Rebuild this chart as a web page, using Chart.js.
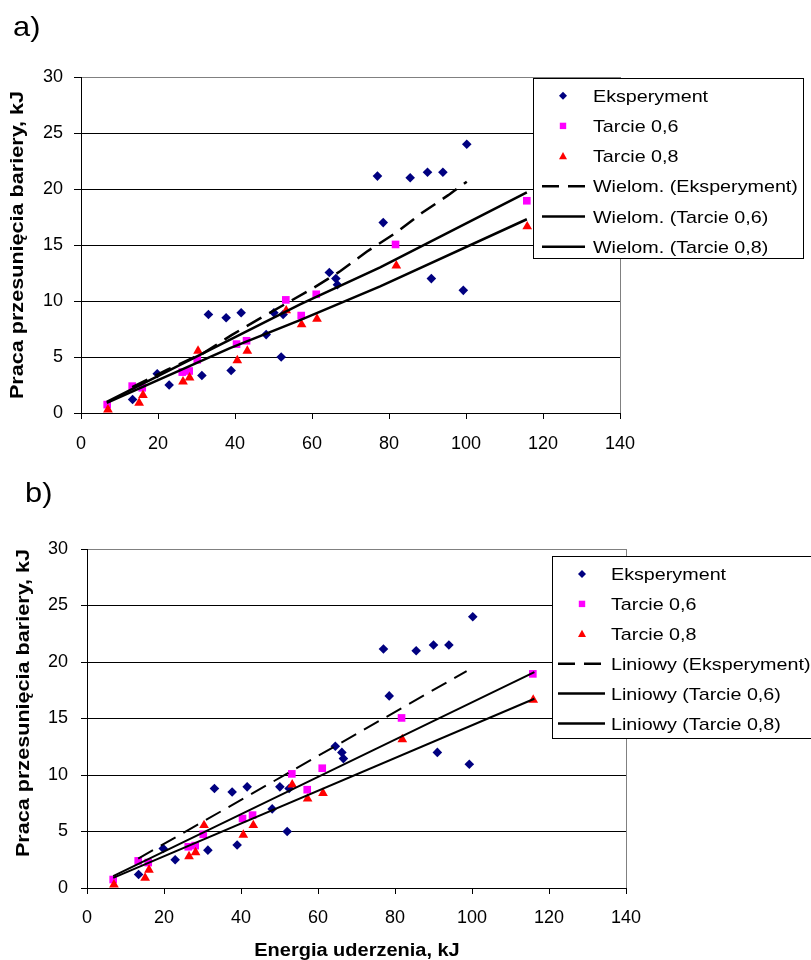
<!DOCTYPE html>
<html>
<head>
<meta charset="utf-8">
<script src="https://cdn.jsdelivr.net/npm/chart.js@4/dist/chart.umd.min.js"></script>
<style>
  body { margin: 0; background: #fff; }
  #wrap { position: relative; width: 811px; height: 960px; }
  canvas { position: absolute; left: 0; }
  #chartA { top: 0; }
  #chartB { top: 470px; }
</style>
</head>
<body>
<div id="wrap">
  <canvas id="chartA" width="811" height="470"></canvas>
  <canvas id="chartB" width="811" height="490"></canvas>
</div>
<script>
// measured points (energy kJ -> work kJ)
const expX = [13.4, 19.8, 22.9, 31.4, 33.1, 37.7, 39.0, 41.6, 48.1, 50.1, 52.0, 52.5, 64.5, 66.2, 66.6, 77.0, 78.5, 85.5, 90.0, 91.0, 94.0, 99.3, 100.2];
const expY = [1.2, 3.5, 2.5, 3.35, 8.8, 8.5, 3.8, 8.95, 7.0, 8.95, 5.0, 8.8, 12.55, 12.0, 11.45, 21.15, 17.0, 21.0, 21.5, 12.0, 21.5, 10.95, 24.0];

const t06X = [6.8, 13.3, 15.9, 26.3, 28.1, 30.2, 40.4, 43.0, 53.2, 57.2, 61.1, 81.7, 115.8];
const t06Y = [0.75, 2.4, 2.25, 3.65, 3.75, 4.75, 6.15, 6.45, 10.1, 8.7, 10.6, 15.05, 18.95];

const t08X = [7.0, 15.1, 16.1, 26.5, 28.2, 30.4, 40.6, 43.2, 53.3, 57.3, 61.3, 81.9, 115.9];
const t08Y = [0.3, 0.9, 1.6, 2.8, 3.15, 5.55, 4.7, 5.55, 9.15, 7.9, 8.4, 13.15, 16.65];

// polynomial trend lines (chart a)
const polyExpX = [13.3, 22.3, 31.8, 39.1, 46.5, 60.3, 67.3, 74.2, 81.6, 88.5, 95.4, 100.2];
const polyExpY = [2.3, 3.85, 5.35, 6.95, 8.45, 11.15, 12.65, 14.4, 16.05, 17.85, 19.45, 20.65];
const polyT06X = [6.7, 31.8, 56.9, 77.7, 115.8];
const polyT06Y = [1.0, 5.35, 9.7, 13.0, 19.7];
const polyT08X = [6.7, 38.7, 56.9, 77.7, 115.8];
const polyT08Y = [0.9, 5.8, 8.3, 11.3, 17.3];

// linear trend lines (chart b)
const linExpX = [13.3, 98.6];
const linExpY = [2.6, 19.2];
const linT06X = [6.8, 116.2];
const linT06Y = [1.05, 19.1];
const linT08X = [6.8, 116.2];
const linT08Y = [0.9, 16.75];

const xTicks = [0, 20, 40, 60, 80, 100, 120, 140];
const yTicks = [0, 5, 10, 15, 20, 25, 30];

const seriesNames = ['Eksperyment', 'Tarcie 0,6', 'Tarcie 0,8'];
const FONT = "'Liberation Sans', Arial, sans-serif";

const pts = (xs, ys) => xs.map((x, i) => ({ x: x, y: ys[i] }));

function markerPath(ctx, style, x, y, r) {
  ctx.beginPath();
  if (style === 'rectRot') {
    ctx.moveTo(x, y - r); ctx.lineTo(x + r, y); ctx.lineTo(x, y + r); ctx.lineTo(x - r, y);
  } else if (style === 'rect') {
    ctx.rect(x - r, y - r, 2 * r, 2 * r);
  } else {
    ctx.moveTo(x, y - r); ctx.lineTo(x + r, y + r * 0.8); ctx.lineTo(x - r, y + r * 0.8);
  }
  ctx.closePath();
}

function wideText(ctx, text, x, y, font, sx, align, rot) {
  ctx.save();
  ctx.translate(x, y);
  if (rot) ctx.rotate(rot);
  ctx.scale(sx, 1);
  ctx.font = font;
  ctx.fillStyle = '#000';
  ctx.textAlign = align;
  ctx.textBaseline = 'alphabetic';
  ctx.fillText(text, 0, 0);
  ctx.restore();
}

// frame, panel letter, axis titles and legend box
const panelPlugin = {
  id: 'panel',
  afterDraw(chart, args, o) {
    const ctx = chart.ctx, a = chart.chartArea;
    ctx.save();
    ctx.strokeStyle = '#808080';
    ctx.lineWidth = 1;
    const rx = Math.round(a.right) + 0.5;
    ctx.beginPath(); ctx.moveTo(rx, a.top); ctx.lineTo(rx, a.bottom); ctx.stroke();
    ctx.restore();

    wideText(ctx, o.letter, o.letterX, o.letterY, '28px ' + FONT, 1.1, 'left');
    wideText(ctx, 'Praca przesunięcia bariery, kJ', o.yTitleX, o.yTitleY, 'bold 18px ' + FONT, 1.2, 'center', -Math.PI / 2);
    if (o.xTitle) wideText(ctx, 'Energia uderzenia, kJ', o.xTitleX, o.xTitleY, 'bold 18px ' + FONT, 1.11, 'center');

    const L = o.legend;
    ctx.save();
    ctx.fillStyle = '#fff';
    ctx.fillRect(L.left, L.top, L.right - L.left, L.bottom - L.top);
    ctx.strokeStyle = '#000';
    ctx.lineWidth = 1;
    ctx.strokeRect(L.left + 0.5, L.top + 0.5, L.right - L.left, L.bottom - L.top);
    chart.data.datasets.forEach((ds, i) => {
      const cy = L.top + L.first + i * L.gap;
      if (ds.showLine) {
        ctx.strokeStyle = '#000';
        ctx.lineWidth = 2.5;
        ctx.setLineDash(ds.borderDash || []);
        ctx.beginPath(); ctx.moveTo(L.lineX0, cy); ctx.lineTo(L.lineX1, cy); ctx.stroke();
        ctx.setLineDash([]);
      } else {
        ctx.fillStyle = ds.backgroundColor;
        markerPath(ctx, ds.pointStyle, L.markX, cy, ds.pointStyle === 'rect' ? 3.2 : 4);
        ctx.fill();
      }
      wideText(ctx, ds.label, L.textX, cy + 6, '17px ' + FONT, 1.16, 'left');
    });
    ctx.restore();
  }
};

function buildDatasets(trendName, trends, lineWidth) {
  const colors = ['#000080', '#FF00FF', '#FF0000'];
  const styles = ['rectRot', 'rect', 'triangle'];
  const radii = [4.8, 5.4, 5.6];
  const src = [pts(expX, expY), pts(t06X, t06Y), pts(t08X, t08Y)];
  const sets = src.map((d, i) => ({
    label: seriesNames[i],
    data: d,
    showLine: false,
    pointStyle: styles[i],
    pointRadius: radii[i],
    pointBorderWidth: 0,
    backgroundColor: colors[i],
    borderColor: colors[i],
    clip: false,
    order: 6 - i
  }));
  trends.forEach((t, i) => {
    sets.push({
      label: trendName + ' (' + seriesNames[i] + ')',
      data: pts(t[0], t[1]),
      showLine: true,
      borderColor: '#000',
      borderWidth: lineWidth,
      borderDash: i === 0 ? [17, 9] : [],
      pointRadius: 0,
      tension: 0,
      backgroundColor: '#000',
      order: 3 - i
    });
  });
  return sets;
}

function makeChart(id, opts) {
  return new Chart(document.getElementById(id), {
    type: 'scatter',
    data: { datasets: buildDatasets(opts.trendName, opts.trends, opts.lineWidth) },
    plugins: [panelPlugin],
    options: {
      responsive: false,
      animation: false,
      events: [],
      layout: { padding: { top: opts.area.top, right: opts.width - opts.area.right, left: 0, bottom: 0 } },
      plugins: {
        legend: { display: false },
        tooltip: { enabled: false },
        panel: opts.panel
      },
      scales: {
        x: {
          type: 'linear',
          min: 0, max: 140,
          afterBuildTicks: s => { s.ticks = xTicks.map(v => ({ value: v })); },
          afterFit: s => { s.height = opts.height - opts.area.bottom; },
          ticks: { color: '#000', font: { family: FONT, size: 18 }, padding: opts.xPad, maxRotation: 0 },
          grid: { drawOnChartArea: false, drawTicks: true, tickLength: 6, tickColor: '#000' },
          border: { color: '#000', width: 1 }
        },
        y: {
          type: 'linear',
          min: 0, max: 30,
          afterBuildTicks: s => { s.ticks = yTicks.map(v => ({ value: v })); },
          afterFit: s => { s.width = opts.area.left; },
          ticks: { color: '#000', font: { family: FONT, size: 18 }, padding: opts.yPad },
          grid: {
            color: c => (c.tick && c.tick.value === 30 ? '#808080' : '#000'),
            lineWidth: 1,
            drawTicks: true,
            tickLength: opts.yTick,
            tickColor: '#000'
          },
          border: { color: '#000', width: 1 }
        }
      }
    }
  });
}

makeChart('chartA', {
  width: 811, height: 470,
  area: { left: 81, top: 77, right: 620, bottom: 413 },
  xPad: 14, yPad: 11, yTick: 7, lineWidth: 2.5,
  trendName: 'Wielom.',
  trends: [[polyExpX, polyExpY], [polyT06X, polyT06Y], [polyT08X, polyT08Y]],
  panel: {
    letter: 'a)', letterX: 13, letterY: 36,
    yTitleX: 23, yTitleY: 245,
    xTitle: false,
    legend: { left: 533, top: 78, right: 803, bottom: 258, first: 17.7, gap: 30.2,
              markX: 563, lineX0: 542, lineX1: 585, textX: 593 }
  }
});

makeChart('chartB', {
  width: 811, height: 490,
  area: { left: 87, top: 79, right: 626, bottom: 418 },
  xPad: 13, yPad: 13, yTick: 6, lineWidth: 2,
  trendName: 'Liniowy',
  trends: [[linExpX, linExpY], [linT06X, linT06Y], [linT08X, linT08Y]],
  panel: {
    letter: 'b)', letterX: 25, letterY: 32,
    yTitleX: 28.5, yTitleY: 233,
    xTitle: true, xTitleX: 357, xTitleY: 486,
    legend: { left: 552, top: 86, right: 815, bottom: 268, first: 18, gap: 29.9,
              markX: 582, lineX0: 558, lineX1: 605, textX: 611 }
  }
});
</script>
</body>
</html>
